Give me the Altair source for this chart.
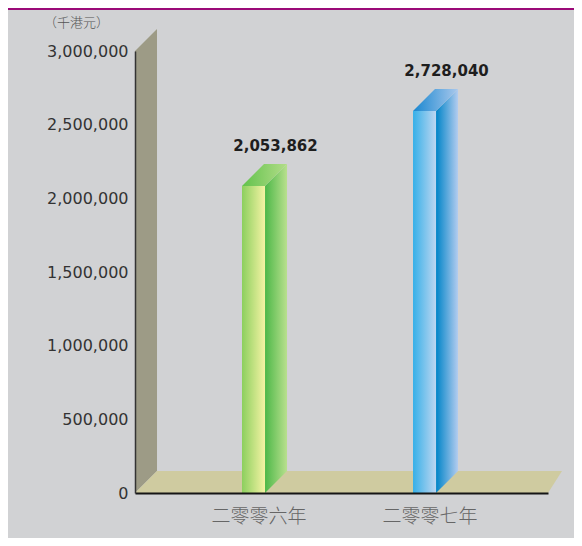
import altair as alt
import pandas as pd

# ---- data ----
categories = ["二零零六年", "二零零七年"]
value_labels = ["2,053,862", "2,728,040"]
bar_heights = [2084000, 2593000]          # heights of the bars as drawn
y_ticks = [0, 500000, 1000000, 1500000, 2000000, 2500000, 3000000]
unit_label = "（千港元）"

# ---- geometry / style constants ----
Y_MAX = 3000000
X_MIN, X_MAX = -0.693, 1.722
HALF_W = 0.0673
DX = 0.1287
DY = 149000
FLOOR_DX_RIGHT = 0.082
W, H = 413, 442
PAD = {"left": 127, "top": 43, "right": 26, "bottom": 45}

BG = "#d1d2d4"
WALL = "#9d9b86"
FLOOR = "#cfcba0"
palettes = [
    {"front": ("#8ccf5e", "#f4f3a4"), "side": ("#4db848", "#b9e08e"), "top": ("#62c24c", "#b2dd88")},
    {"front": ("#36b0e8", "#bdd6f1"), "side": ("#0084c8", "#b3ccef"), "top": ("#1987d0", "#a9c8ec")},
]

label_expr = "[" + ",".join("'" + c + "'" for c in categories) + "][datum.value]"


def grad(c0, c1):
    return alt.Gradient(
        gradient="linear",
        stops=[alt.GradientStop(color=c0, offset=0), alt.GradientStop(color=c1, offset=1)],
        x1=0, x2=1, y1=0, y2=0,
    )


x_scale = alt.Scale(domain=[X_MIN, X_MAX], nice=False, zero=False)
y_scale = alt.Scale(domain=[0, Y_MAX], nice=False, zero=False)
x_axis = alt.Axis(
    values=[0, 1], labelExpr=label_expr, title=None, ticks=False, grid=False,
    domainColor="#151515", domainWidth=2, labelFont="Noto Sans CJK TC",
    labelFontSize=19, labelColor="#666666", labelPadding=14, labelOffset=5,
    labelFontWeight=300, zindex=1,
)
y_axis = alt.Axis(
    values=y_ticks, labelExpr="format(datum.value, ',')", title=unit_label,
    ticks=False, grid=False,
    domainColor="#333333", domainWidth=1.5, labelFont="DejaVu Sans",
    labelFontSize=16, labelColor="#333333", labelPadding=7,
    titleAngle=0, titleAlign="center", titleBaseline="middle",
    titleX=-59, titleY=-29, titleFont="Noto Sans CJK TC", titleFontSize=13,
    titleFontWeight=300, titleColor="#555555", zindex=1,
)


def X(field="x"):
    return alt.X(f"{field}:Q", scale=x_scale, axis=x_axis)


def Y(field="y"):
    return alt.Y(f"{field}:Q", scale=y_scale, axis=y_axis)


layers = []

# back wall (vertical parallelogram)
wall_df = pd.DataFrame({
    "x": [X_MIN, X_MIN + DX],
    "y": [Y_MAX, Y_MAX + DY],
    "y2": [0, DY],
})
layers.append(alt.Chart(wall_df).mark_area(fill=WALL, orient="vertical").encode(
    x=X(), y=Y(), y2="y2:Q"))

# floor (horizontal parallelogram)
floor_df = pd.DataFrame({
    "y": [0, DY],
    "x": [X_MIN, X_MIN + DX],
    "x2": [X_MAX, X_MAX + FLOOR_DX_RIGHT],
})
layers.append(alt.Chart(floor_df).mark_area(fill=FLOOR, orient="horizontal").encode(
    y=Y(), x=X(), x2="x2:Q"))

for i, h in enumerate(bar_heights):
    pal = palettes[i]
    side_df = pd.DataFrame({
        "x": [i + HALF_W, i + HALF_W + DX],
        "y": [h, h + DY],
        "y2": [0, DY],
    })
    layers.append(alt.Chart(side_df).mark_area(fill=grad(*pal["side"]), orient="vertical").encode(
        x=X(), y=Y(), y2="y2:Q"))
    top_df = pd.DataFrame({
        "y": [h, h + DY],
        "x": [i - HALF_W, i - HALF_W + DX],
        "x2": [i + HALF_W, i + HALF_W + DX],
    })
    layers.append(alt.Chart(top_df).mark_area(fill=grad(*pal["top"]), orient="horizontal").encode(
        y=Y(), x=X(), x2="x2:Q"))
    front_df = pd.DataFrame({"x": [i - HALF_W], "x2": [i + HALF_W], "y": [h], "y2": [0]})
    layers.append(alt.Chart(front_df).mark_rect(fill=grad(*pal["front"])).encode(
        x=X(), x2="x2:Q", y=Y(), y2="y2:Q"))

# value labels
lab_df = pd.DataFrame({
    "x": [i + DX for i in range(len(categories))],
    "y": [h + DY for h in bar_heights],
    "label": value_labels,
})
layers.append(alt.Chart(lab_df).mark_text(
    font="DejaVu Sans", fontSize=15, fontWeight="bold", color="#1e1e1e",
    baseline="bottom", align="center", dy=-10,
).encode(x=X(), y=Y(), text="label:N"))

# magenta top border line
layers.append(alt.Chart(pd.DataFrame({"a": [0]})).mark_rule(
    color="#9b0a78", strokeWidth=2).encode(
    x=alt.value(-PAD["left"]), x2=alt.value(W + PAD["right"]), y=alt.value(-PAD["top"] + 1)))

chart = alt.layer(*layers).properties(
    width=W, height=H, padding=PAD,
    autosize=alt.AutoSizeParams(type="none"),
).configure(background=BG).configure_view(stroke=None)

chart.save("out.html", embed_options={"renderer": "svg", "actions": False})
